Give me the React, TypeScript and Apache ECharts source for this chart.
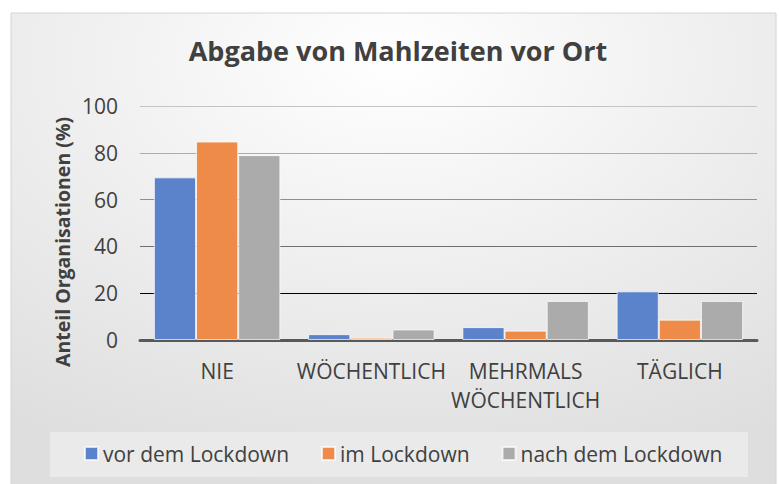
import React, { useEffect, useRef } from "react";
import * as echarts from "echarts";

const categories = ["NIE", "WÖCHENTLICH", "MEHRMALS WÖCHENTLICH", "TÄGLICH"];
const seriesNames = ["vor dem Lockdown", "im Lockdown", "nach dem Lockdown"];
const vorDemLockdown = [69.5, 2.5, 5.5, 20.8];
const imLockdown = [84.8, 1.0, 4.0, 8.7];
const nachDemLockdown = [79.0, 4.5, 16.7, 16.7];
const seriesValues = [vorDemLockdown, imLockdown, nachDemLockdown];
const seriesColors = ["#5B83CC", "#EE8B48", "#ABABAB"];
const yTicks = { min: 0, max: 100, interval: 20 };

const FONT = "'Open Sans', 'DejaVu Sans', sans-serif";

export default function App() {
  const ref = useRef<HTMLDivElement>(null);
  useEffect(() => {
    if (!ref.current) return;
    const chart = echarts.init(ref.current, null, { renderer: "svg" });
    chart.setOption({
      animation: false,
      backgroundColor: "#ffffff",
      textStyle: { fontFamily: FONT },
      title: {
        text: "Abgabe von Mahlzeiten vor Ort",
        left: 398,
        top: 37,
        padding: 0,
        textAlign: "center",
        textStyle: { fontFamily: FONT, fontSize: 27, fontWeight: "bold", color: "#404040" },
      },
      graphic: [
        {
          type: "rect",
          z: -10,
          shape: { x: 11, y: 13, width: 765, height: 480 },
          style: {
            fill: new echarts.graphic.RadialGradient(0.5, 0.1, 0.9, [
              { offset: 0, color: "#ffffff" },
              { offset: 0.6, color: "#ebebeb" },
              { offset: 1, color: "#dedede" },
            ]),
            stroke: "#d4d4d4",
            lineWidth: 1,
          },
        },
        {
          type: "rect",
          z: -5,
          shape: { x: 50, y: 432, width: 698, height: 45 },
          style: { fill: "#eaeaea" },
        },
        {
          type: "text",
          x: 62,
          y: 242,
          rotation: Math.PI / 2,
          style: {
            text: "Anteil Organisationen (%)",
            fontFamily: FONT,
            fontSize: 19.5,
            fontWeight: "bold",
            fill: "#404040",
            align: "center",
            verticalAlign: "middle",
          },
        },
      ],
      legend: {
        data: seriesNames,
        left: 84,
        top: 443,
        padding: 0,
        itemWidth: 13,
        itemHeight: 13,
        itemGap: 32,
        icon: "rect",
        textStyle: { fontFamily: FONT, fontSize: 21, color: "#404040", padding: [0, 0, 0, 0] },
      },
      grid: { left: 140, right: 22, top: 106, bottom: 144, containLabel: false },
      xAxis: {
        type: "category",
        data: categories,
        axisLine: { show: true, lineStyle: { color: "#595959", width: 3 } },
        axisTick: { show: false },
        axisLabel: {
          margin: 16,
          fontFamily: FONT,
          fontSize: 21,
          lineHeight: 29,
          color: "#404040",
          interval: 0,
          formatter: (v: string) => v.replace(" ", "\n"),
        },
      },
      yAxis: {
        type: "value",
        min: yTicks.min,
        max: yTicks.max,
        interval: yTicks.interval,
        axisLine: { show: false },
        axisTick: { show: false },
        axisLabel: { margin: 22, fontFamily: FONT, fontSize: 21, color: "#404040" },
        splitLine: {
          show: true,
          lineStyle: {
            color: ["#595959", "#000000", "#6f6f6f", "#8e8e8e", "#adadad", "#c4c4c4"],
            width: 1.2,
          },
        },
      },
      series: seriesNames.map((name, i) => ({
        name,
        type: "bar",
        data: seriesValues[i],
        barGap: "0%",
        barCategoryGap: "18%",
        itemStyle: {
          color: seriesColors[i],
          borderColor: "rgba(255,255,255,0.7)",
          borderWidth: 1,
        },
      })),
    });
    return () => chart.dispose();
  }, []);
  return (
    <div
      ref={ref}
      style={{ position: "absolute", left: 0, top: 0, width: 779, height: 484 }}
    />
  );
}
